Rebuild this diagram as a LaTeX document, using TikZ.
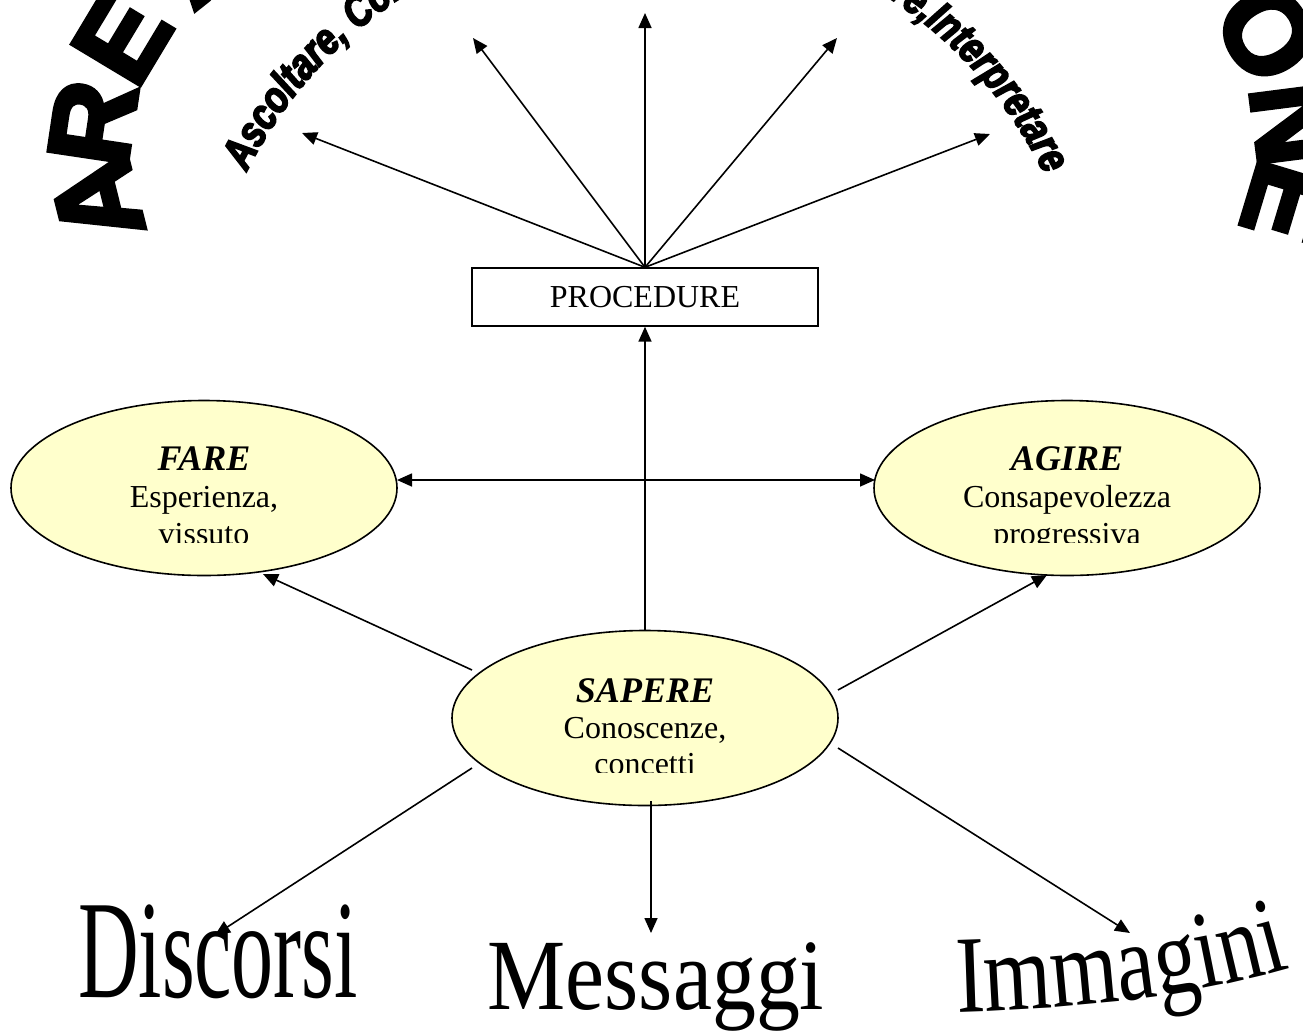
\documentclass[tikz,border=0pt]{standalone}
\usepackage{fontspec}
\setmainfont{Liberation Serif}
\newfontfamily\wordart{Liberation Sans}[FakeBold=4]
\newfontfamily\tallart{Liberation Sans}[FakeBold=4,FakeStretch=0.8]
\newfontfamily\narrowserif{Liberation Serif}[FakeStretch=0.79]
\usetikzlibrary{arrows.meta,decorations.text,shapes.geometric}
\definecolor{paleyellow}{HTML}{FFFFCC}

\begin{document}
\begin{tikzpicture}[x=1pt,y=-1pt,
  arr/.style={line width=1.6pt,-{Triangle[length=15pt,width=13pt]}},
  dbl/.style={line width=1.6pt,{Triangle[length=15pt,width=13pt]}-{Triangle[length=15pt,width=13pt]}},
  bubble/.style={ellipse,draw,line width=1.6pt,fill=paleyellow,
    minimum width=386pt,minimum height=175pt,inner sep=0pt},
  labelbox/.style={draw,line width=1.4pt,minimum width=346pt,minimum height=58pt,
    inner sep=0pt,font=\fontsize{32}{32}\selectfont},
  title/.style={anchor=base,inner sep=0pt,font=\fontsize{36}{36}\selectfont\bfseries\itshape},
  body/.style={anchor=base,inner sep=0pt,font=\fontsize{32}{32}\selectfont},
  arcletter/.style={inner sep=0pt,font=\wordart\bfseries\fontsize{115}{115}\selectfont},
]
\useasboundingbox (0,0) rectangle (1303,1034);
\clip (0,0) rectangle (1303,1034);

% outer heading letters on a wide arch
\node[arcletter,rotate=104]   (la1) at (97,200)   {A};
\node[arcletter,rotate=81.5]  (lr)  at (93,123)   {R};
\node[arcletter,rotate=59]    (le)  at (122,38)   {E};
\node[arcletter,rotate=38.5]  (la2) at (201,-45)  {A};
\node[arcletter,rotate=-39.6] (ri)  at (1193,-40) {I};
\node[arcletter,rotate=-58.7] (ro)  at (1267,33)  {O};
\node[arcletter,rotate=-82.7] (rn)  at (1294,124) {N};
\node[arcletter,rotate=-106.8] (re) at (1288,203) {E};

% inner arched line of verbs
\begin{scope}[shift={(645,370)},y=1pt]
  \path[decorate,decoration={text along path,text align=left,
      text={|\tallart\bfseries\itshape\fontsize{44}{44}\selectfont|Ascoltare, Comu}}]
    (153.5:445) arc[start angle=153.5,end angle=60,radius=445];
  \path[decorate,decoration={text along path,text align=right,
      text={|\tallart\bfseries\itshape\fontsize{44}{44}\selectfont|ere,Interpretare}}]
    (125:445) arc[start angle=125,end angle=26,radius=445];
\end{scope}

% central box and the three ellipses
\node[labelbox] (proc) at (645,297) {PROCEDURE};
\node[bubble] (fare)  at (204,488)  {};
\node[bubble] (agire) at (1067,488) {};
\node[bubble] (sap)   at (645,718)  {};

\begin{scope}
  \clip (0,380) rectangle (1303,542);
  \node[title] (fareT)  at (204,470)  {FARE};
  \node[body]  (fareB)  at (204,507)  {Esperienza,};
  \node[body]  (fareC)  at (204,544)  {vissuto};
  \node[title] (agireT) at (1067,470) {AGIRE};
  \node[body]  (agireB) at (1067,507) {Consapevolezza};
  \node[body]  (agireC) at (1067,544) {progressiva};
\end{scope}
\begin{scope}
  \clip (0,620) rectangle (1303,772);
  \node[title] (sapT) at (645,702) {SAPERE};
  \node[body]  (sapB) at (645,738) {Conoscenze,};
  \node[body]  (sapC) at (645,774) {concetti};
\end{scope}

% arrow ends
\coordinate (t1) at (302,133);
\coordinate (t2) at (473,38);
\coordinate (t3) at (645,13);
\coordinate (t4) at (837,38);
\coordinate (t5) at (990,134);
\coordinate (hl) at (397,480);
\coordinate (hr) at (875,480);
\coordinate (sF) at (472,670);
\coordinate (fT) at (263,574);
\coordinate (sA) at (838,690);
\coordinate (aT) at (1047,575);
\coordinate (sD) at (472,768);
\coordinate (dT) at (215,935);
\coordinate (sM) at (651,801);
\coordinate (mT) at (651,933);
\coordinate (sI) at (838,748);
\coordinate (iT) at (1130,933);

\foreach \t in {t1,t2,t3,t4,t5} \draw[arr] (proc.north) -- (\t);
\draw[arr] (sap.north) -- (proc.south);
\draw[dbl] (hl) -- (hr);
\draw[arr] (sF) -- (fT);
\draw[arr] (sA) -- (aT);
\draw[arr] (sD) -- (dT);
\draw[arr] (sM) -- (mT);
\draw[arr] (sI) -- (iT);

% bottom words
\node[inner sep=0pt,anchor=base,font=\fontsize{140}{140}\selectfont] (disc) at (218,997)
  {\scalebox{0.6}[1]{Discorsi}};
\node[inner sep=0pt,anchor=base,font=\fontsize{101}{101}\selectfont] (mess) at (656,1009)
  {\scalebox{0.87}[1]{Messaggi}};
\path[decorate,decoration={text along path,text align=left,
    text={|\narrowserif\fontsize{110}{110}\selectfont|Immagini}}]
  (957,1012) .. controls (1090,1008) and (1200,996) .. (1310,962);
\end{tikzpicture}
\end{document}
